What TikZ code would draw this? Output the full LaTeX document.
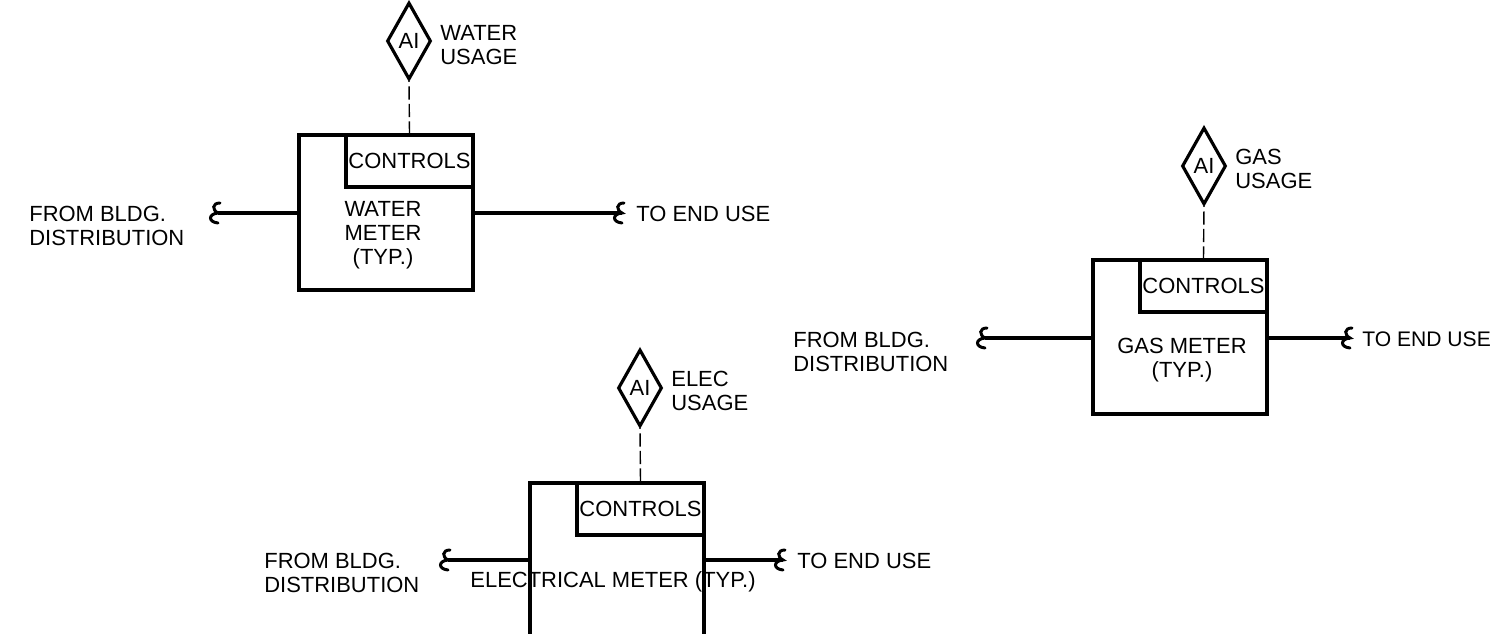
\documentclass[tikz,border=0pt]{standalone}
\usepackage{fontspec}
\setmainfont{Liberation Sans}
\usetikzlibrary{positioning,shapes.geometric}
\tikzset{
  meterbox/.style={draw, line width=1.8pt, minimum width=3.48cm, inner sep=0pt},
  ctlbox/.style={draw, line width=1.8pt, minimum width=2.54cm, minimum height=1.04cm, inner sep=0pt, anchor=north east},
  aidiamond/.style={draw, diamond, line width=1.8pt, aspect=0.57, minimum width=0.88cm, minimum height=1.54cm, inner sep=0pt},
  lbl/.style={align=left, anchor=west, inner sep=0pt},
  inlbl/.style={align=center, inner sep=0pt},
  pipe/.style={line width=1.8pt},
  sigline/.style={line width=0.8pt, dash pattern=on 7.5pt off 2.5pt, dash phase=7pt},
  breakmark/.pic={\draw[line width=1.7pt, line cap=round] (2,-10) .. controls (-6,-10) and (-6,-3) .. (0,0) .. controls (-10,1) and (-10,9) .. (0,10);}
}
\begin{document}
\begin{tikzpicture}[x=0.02cm, y=-0.02cm, font=\fontsize{12.5}{13.6}\selectfont]
\clip (0,0) rectangle (1492,634);
% water meter
\node[meterbox, minimum height=3.10cm] (meterw) at (386,212.5) {};
\node[ctlbox] (ctlw) at (meterw.north east) {CONTROLS};
\node[inlbl] (namew) at (383,235) {WATER\\METER\\(TYP.)};
\node[aidiamond] (aiw) at (409,41) {AI};
\node[lbl] (usew) at (440,45) {WATER\\USAGE};
\draw[sigline] (aiw.south) -- (ctlw.north);
\coordinate (fromw) at (218,213);
\coordinate (tow) at (622,213);
\draw[pipe] (fromw) -- (fromw -| meterw.west);
\draw[pipe] (meterw.east |- tow) -- (tow);
\path (fromw) pic {breakmark};
\path (tow) pic {breakmark};
\node[lbl] (srcw) at (29,226) {FROM BLDG.\\DISTRIBUTION};
\node[lbl] (endw) at (636,214) {TO END USE};
% gas meter
\node[meterbox, minimum height=3.08cm] (meterg) at (1180,337) {};
\node[ctlbox] (ctlg) at (meterg.north east) {CONTROLS};
\node[inlbl] (nameg) at (1182,360) {GAS METER\\(TYP.)};
\node[aidiamond] (aig) at (1204,166) {AI};
\node[lbl] (useg) at (1235,169) {GAS\\USAGE};
\draw[sigline] (aig.south) -- (ctlg.north);
\coordinate (fromg) at (985,338);
\coordinate (tog) at (1350,338);
\draw[pipe] (fromg) -- (fromg -| meterg.west);
\draw[pipe] (meterg.east |- tog) -- (tog);
\path (fromg) pic {breakmark};
\path (tog) pic {breakmark};
\node[lbl] (srcg) at (793,352) {FROM BLDG.\\DISTRIBUTION};
\node[lbl, font=\fontsize{12}{13.6}\selectfont] (endg) at (1362,339) {TO END USE};
% elec meter, runs off the page
\node[meterbox, minimum height=3.40cm] (metere) at (617,568) {};
\node[ctlbox] (ctle) at (metere.north east) {CONTROLS};
\node[inlbl] (namee) at (613,582) {ELECTRICAL METER (TYP.)};
\node[aidiamond] (aie) at (640,388) {AI};
\node[lbl] (usee) at (671,391) {ELEC\\USAGE};
\draw[sigline] (aie.south) -- (ctle.north);
\coordinate (frome) at (448,560);
\coordinate (toe) at (783,560);
\draw[pipe] (frome) -- (frome -| metere.west);
\draw[pipe] (metere.east |- toe) -- (toe);
\path (frome) pic {breakmark};
\path (toe) pic {breakmark};
\node[lbl] (srce) at (264,573) {FROM BLDG.\\DISTRIBUTION};
\node[lbl] (ende) at (797,561) {TO END USE};
\end{tikzpicture}
\end{document}
